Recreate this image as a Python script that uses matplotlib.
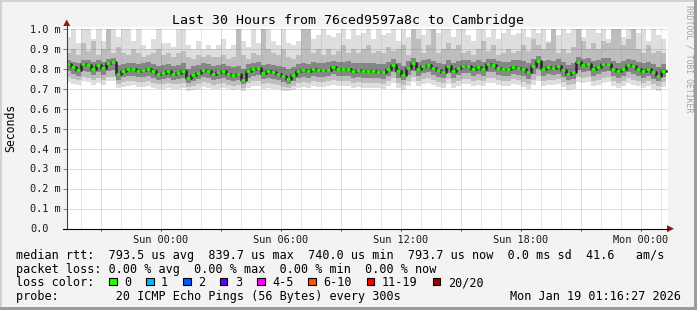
import matplotlib
matplotlib.use('Agg')
import matplotlib.pyplot as plt
import numpy as np
from matplotlib.patches import Rectangle, Polygon
from matplotlib.lines import Line2D

W, H = 697, 310
MONO = 'DejaVu Sans Mono'

# --- data (values in microseconds, one per 15 min step) ---
median = [
    827, 810, 795, 826, 822, 800, 820, 805, 830, 835, 775, 790, 800, 800, 790,
    795, 800, 790, 775, 782, 790, 775, 780, 790, 755, 770, 780, 795, 790, 775,
    785, 790, 775, 770, 775, 745, 790, 800, 805, 780, 790, 785, 775, 765, 750,
    770, 790, 795, 790, 800, 797, 795, 798, 812, 800, 800, 803, 790, 795, 790,
    790, 790, 787, 785, 800, 823, 790, 773, 805, 830, 800, 815, 823, 805, 795,
    785, 815, 790, 805, 815, 818, 800, 810, 800, 825, 822, 805, 800, 800, 810,
    807, 800, 785, 815, 840, 800, 812, 805, 815, 795, 775, 785, 835, 822, 827,
    800, 812, 825, 827, 800, 790, 800, 822, 815, 800, 790, 800, 785, 765, 790,
]
ping_max = [
    960, 1000, 930, 1000, 1000, 950, 1000, 940, 1000, 1000, 960, 1000, 1000, 940, 1000,
    920, 900, 950, 1000, 930, 930, 910, 1000, 1000, 920, 900, 940, 900, 920, 900,
    920, 950, 900, 920, 1000, 940, 910, 1000, 930, 1000, 1000, 940, 920, 1000, 930,
    920, 940, 1000, 1000, 950, 970, 1000, 970, 960, 980, 1000, 950, 1000, 970, 980,
    1000, 950, 1000, 970, 980, 1000, 940, 1000, 960, 1000, 1000, 970, 1000, 950, 980,
    1000, 1000, 960, 1000, 1000, 970, 940, 1000, 1000, 960, 1000, 950, 980, 1000, 970,
    980, 1000, 960, 1000, 980, 1000, 940, 1000, 970, 1000, 980, 1000, 1000, 960, 1000,
    1000, 980, 1000, 950, 1000, 1000, 960, 1000, 1000, 980, 1000, 940, 1000, 970, 950,
]
ping_hi2 = [
    880, 900, 870, 930, 890, 940, 870, 900, 1000, 880, 910, 880, 870, 900, 880,
    860, 870, 880, 900, 870, 880, 860, 880, 890, 860, 850, 870, 860, 870, 860,
    860, 870, 850, 860, 1000, 870, 850, 880, 870, 1000, 900, 880, 870, 900, 860,
    850, 870, 1000, 1000, 880, 900, 870, 900, 870, 890, 920, 880, 900, 880, 900,
    920, 880, 890, 880, 910, 890, 900, 920, 870, 1000, 950, 880, 920, 1000, 880,
    900, 930, 900, 920, 880, 890, 870, 900, 940, 890, 920, 870, 880, 900, 880,
    890, 920, 890, 950, 920, 900, 930, 1000, 880, 900, 880, 910, 1000, 940, 900,
    930, 900, 940, 930, 1000, 1000, 920, 950, 1000, 900, 880, 920, 880, 890, 880,
]
ping_hi1 = [
    845, 835, 830, 845, 845, 835, 845, 835, 850, 855, 820, 825, 830, 830, 825,
    830, 835, 825, 815, 820, 825, 815, 820, 830, 800, 815, 820, 830, 825, 815,
    820, 825, 815, 810, 815, 800, 825, 830, 835, 820, 825, 820, 815, 810, 800,
    810, 825, 830, 825, 835, 830, 830, 835, 840, 835, 835, 840, 830, 830, 830,
    830, 830, 825, 825, 835, 850, 830, 815, 840, 855, 835, 845, 850, 840, 830,
    825, 845, 830, 840, 845, 845, 835, 845, 835, 850, 850, 840, 835, 835, 845,
    845, 840, 830, 850, 865, 840, 845, 840, 850, 835, 820, 830, 860, 850, 855,
    840, 845, 855, 855, 840, 830, 840, 850, 845, 835, 830, 835, 825, 810, 825,
]
ping_lo1 = [
    790, 775, 765, 790, 785, 770, 785, 770, 790, 795, 745, 760, 765, 765, 760,
    760, 765, 755, 745, 750, 755, 745, 750, 755, 730, 740, 750, 760, 755, 745,
    750, 755, 745, 740, 745, 725, 755, 765, 770, 750, 755, 750, 745, 735, 725,
    740, 755, 760, 755, 765, 760, 760, 765, 775, 765, 765, 765, 755, 760, 755,
    755, 755, 755, 750, 765, 785, 755, 745, 770, 790, 765, 780, 785, 770, 760,
    755, 780, 755, 770, 780, 780, 765, 775, 765, 785, 785, 770, 765, 765, 775,
    770, 765, 750, 775, 800, 765, 775, 770, 775, 760, 745, 750, 795, 785, 790,
    765, 775, 785, 790, 765, 755, 765, 785, 775, 765, 755, 765, 750, 740, 760,
]
ping_lo2 = [
    760, 750, 745, 760, 755, 745, 755, 745, 760, 760, 725, 735, 740, 740, 735,
    735, 740, 730, 725, 725, 730, 725, 725, 730, 710, 715, 725, 735, 730, 720,
    725, 730, 720, 715, 720, 705, 730, 740, 740, 725, 730, 725, 720, 710, 705,
    715, 730, 735, 730, 740, 735, 735, 740, 745, 740, 740, 740, 730, 735, 730,
    730, 730, 730, 725, 740, 755, 730, 720, 740, 760, 740, 750, 755, 745, 735,
    730, 750, 730, 740, 750, 750, 740, 745, 740, 755, 755, 745, 740, 740, 750,
    745, 735, 725, 745, 765, 740, 745, 745, 750, 735, 720, 725, 760, 755, 760,
    740, 745, 755, 760, 740, 730, 740, 755, 745, 740, 730, 740, 725, 715, 735,
]
ping_min = [
    735, 725, 720, 740, 735, 720, 730, 720, 740, 740, 705, 710, 715, 720, 710,
    710, 715, 705, 700, 700, 705, 700, 700, 705, 690, 695, 700, 710, 705, 700,
    700, 705, 700, 695, 700, 690, 705, 715, 715, 700, 705, 700, 700, 690, 690,
    695, 705, 710, 705, 715, 710, 710, 715, 720, 715, 715, 715, 705, 710, 705,
    705, 705, 705, 700, 715, 730, 705, 695, 715, 735, 715, 725, 730, 720, 710,
    705, 725, 705, 715, 725, 725, 715, 720, 715, 730, 730, 720, 715, 715, 725,
    720, 710, 700, 720, 740, 715, 720, 720, 725, 710, 695, 700, 735, 730, 735,
    715, 720, 730, 735, 715, 705, 715, 730, 720, 715, 705, 715, 700, 690, 710,
]

y_values = [0.0, 0.1, 0.2, 0.3, 0.4, 0.5, 0.6, 0.7, 0.8, 0.9, 1.0]
y_labels = ['0.0', '0.1 m', '0.2 m', '0.3 m', '0.4 m', '0.5 m', '0.6 m',
            '0.7 m', '0.8 m', '0.9 m', '1.0 m']
x_ticks = [0, 6, 12, 18, 24]
x_labels = ['Sun 00:00', 'Sun 06:00', 'Sun 12:00', 'Sun 18:00', 'Mon 00:00']
loss_labels = ['0', '1', '2', '3', '4-5', '6-10', '11-19', '20/20']
loss_colors = ['#26ff00', '#00b8ff', '#0059ff', '#5e00ff', '#ff00ff',
               '#ff5500', '#ff0000', '#a00000']

legend_lines = [
    'median rtt:  793.5 us avg  839.7 us max  740.0 us min  793.7 us now  0.0 ms sd  41.6   am/s',
    'packet loss: 0.00 % avg  0.00 % max  0.00 % min  0.00 % now',
    'loss color:',
    'probe:        20 ICMP Echo Pings (56 Bytes) every 300s',
]
stamp = 'Mon Jan 19 01:16:27 2026'
title = 'Last 30 Hours from 76ced9597a8c to Cambridge'

T0 = -4.73      # hours relative to Sun 00:00
STEP = 0.25


def fx(px):
    return px / W


def fy(py):
    return 1 - py / H


def to_ms(vals):
    # us -> ms, clipped to graph top like rrdtool
    a = np.asarray(vals, dtype=float) / 1000.0
    return np.minimum(a, 1.0)


def ext(vals):
    a = to_ms(vals)
    return np.append(a, a[-1])


fig = plt.figure(figsize=(W / 100, H / 100), dpi=100)
fig.patch.set_facecolor('#f3f3f3')

# 3d frame
fig.add_artist(Rectangle((0, fy(2)), 1, 2 / H, transform=fig.transFigure, color='#d2d2d2', lw=0))
fig.add_artist(Rectangle((0, 0), 2 / W, 1, transform=fig.transFigure, color='#d2d2d2', lw=0))
fig.add_artist(Rectangle((fx(694), 0), 3 / W, 1, transform=fig.transFigure, color='#9c9c9c', lw=0))
fig.add_artist(Rectangle((0, 0), 1, 3 / H, transform=fig.transFigure, color='#9c9c9c', lw=0))

X0, X1, Y0, Y1 = 66.7, 668.0, 228.7, 26.7
PX_PER_MS = 199.4
ax = fig.add_axes([fx(X0), fy(Y0), (X1 - X0) / W, (Y0 - Y1) / H])
ax.set_facecolor('white')
ax.set_xlim((X0 - 160.5) / 20, (X1 - 160.5) / 20)
ax.set_ylim(0, (Y0 - Y1) / PX_PER_MS)
for s in ax.spines.values():
    s.set_visible(False)

edges = T0 + STEP * np.arange(len(median) + 1)

# smoke
ax.fill_between(edges, ext(ping_min), ext(ping_max), step='post', color='#dedede', lw=0, zorder=1)
ax.fill_between(edges, ext(ping_lo2), ext(ping_hi2), step='post', color='#bdbdbd', lw=0, zorder=2)
ax.fill_between(edges, ext(ping_lo1), ext(ping_hi1), step='post', color='#868686', lw=0, zorder=3)

# grid (rrdtool draws it over the smoke)
for h in range(-4, 26):
    if h % 3 == 0:
        ax.axvline(h, color='#ff0000', alpha=0.35, lw=0.72, ls=(0, (1, 1)), zorder=4)
    else:
        ax.axvline(h, color='#8c8c8c', alpha=0.4, lw=0.72, ls=(0, (1, 1)), zorder=4)
for v in y_values[1:]:
    ax.axhline(v, color='#ff0000', alpha=0.35, lw=0.72, ls=(0, (1, 1)), zorder=4)

# median: dark core + green loss colored steps
med = to_ms(median)
ax.step(edges, np.append(med, med[-1]), where='post', color='#262626', lw=1.8, zorder=5)
ax.hlines(med, edges[:-1] + 0.02, edges[1:] - 0.06, colors=loss_colors[0], lw=2.0, zorder=6)

# ticks
ax.set_yticks(y_values)
ax.tick_params(axis='y', length=3.2, width=0.72, color='#808080', labelleft=False)
ax.set_xticks(x_ticks, labels=x_labels)
ax.set_xticks([-3, 3, 9, 15, 21], minor=True)
ax.tick_params(axis='x', which='both', length=1.5, width=0.72, color='#404040',
               labelsize=7.4, pad=3.0, direction='out')
for lab in ax.get_xticklabels():
    lab.set_fontfamily(MONO)
    lab.set_color('#1a1a1a')

ytr = ax.get_yaxis_transform()
for v, lab in zip(y_values, y_labels):
    ax.text(-(X0 - 30) / (X1 - X0), v - 3.6 / PX_PER_MS, lab, transform=ytr,
            ha='left', va='baseline', fontsize=7.4, family=MONO, color='#1a1a1a')

# axis lines + arrows
fig.add_artist(Line2D([fx(X0), fx(X0)], [fy(Y0), fy(24)], transform=fig.transFigure,
                      color='#404040', lw=0.8))
fig.add_artist(Line2D([fx(X0 - 4), fx(668)], [fy(Y0), fy(Y0)], transform=fig.transFigure,
                      color='#000000', lw=0.8))
fig.add_artist(Polygon([(fx(X0 - 3.5), fy(26)), (fx(X0 + 3.5), fy(26)), (fx(X0), fy(19.5))],
                       closed=True, transform=fig.transFigure, color='#8b1a1a', lw=0))
fig.add_artist(Polygon([(fx(667), fy(Y0 - 3.5)), (fx(667), fy(Y0 + 3.5)), (fx(674), fy(Y0))],
                       closed=True, transform=fig.transFigure, color='#8b1a1a', lw=0))

# texts
fig.text(fx(348.5), fy(24), title, ha='center', va='baseline', fontsize=9.5, family=MONO, color='#000000')
fig.text(fx(11), fy(128), 'Seconds', rotation=90, ha='center', va='center', fontsize=8.3,
         family=MONO, color='#000000')
fig.text(fx(688.5), fy(59), 'RRDTOOL / TOBI OETIKER', rotation=270, ha='center', va='center',
         fontsize=5.9, family=MONO, color='#a4a4a4')

baselines = [258.5, 272.5, 286, 300]
for line, b in zip(legend_lines, baselines):
    fig.text(fx(15.5), fy(b), line, ha='left', va='baseline', fontsize=8.5, family=MONO, color='#000000')
fig.text(fx(680.5), fy(300), stamp, ha='right', va='baseline', fontsize=8.5, family=MONO, color='#000000')

# loss color boxes
bx = 109.0
for lab, col in zip(loss_labels, loss_colors):
    fig.add_artist(Rectangle((fx(bx), fy(285)), 7.5 / W, 7.5 / H, transform=fig.transFigure,
                             facecolor=col, edgecolor='#000000', lw=0.8))
    fig.text(fx(bx + 15), fy(286), lab, ha='left', va='baseline', fontsize=8.5, family=MONO, color='#000000')
    bx += 15 + len(lab) * 7.2 + 14.8

fig.savefig('out.png', dpi=100, facecolor=fig.get_facecolor())
